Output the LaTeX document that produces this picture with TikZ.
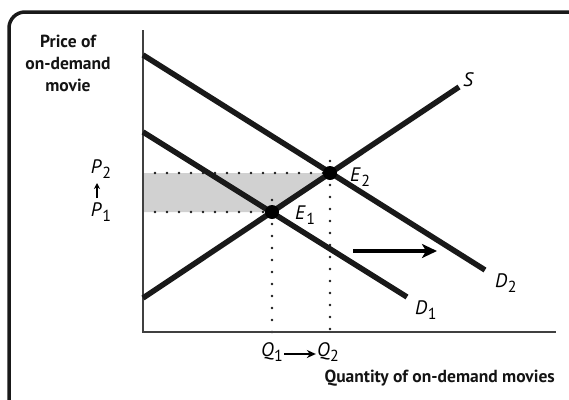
\documentclass[tikz,border=0pt]{standalone}
\usepackage{fontspec}
\setmainfont{PT Sans}
\usetikzlibrary{arrows.meta}
\newcommand\mylab[2]{\textit{#1}\kern0.5pt\raisebox{-0.5ex}{\fontsize{16}{16}\selectfont #2}}
\begin{document}
\begin{tikzpicture}[x=1pt,y=-1pt,
  curve/.style={line width=5.5pt, black!90},
  axisline/.style={line width=1.4pt, black!75},
  dotline/.style={line width=2.6pt, line cap=round, dash pattern=on 0pt off 12pt, black!90},
  eqdot/.style={circle, fill=black, inner sep=0pt, minimum size=14pt},
  lab/.style={font=\fontsize{19.5}{19.5}\selectfont, inner sep=1pt},
  ttl/.style={font=\fontsize{17.5}{22}\selectfont\bfseries, inner sep=0pt, text=black!92}]
\useasboundingbox (0,0) rectangle (569,399);
\clip (0,0) rectangle (569,399);
\draw[line width=3.5pt, rounded corners=16pt, black!90] (9,12) rectangle (590,420);
% key points
\coordinate (O) at (143,332);
\coordinate (Ytop) at (143,30);
\coordinate (Xend) at (556,332);
\coordinate (D2a) at (143,55);
\coordinate (D2b) at (485,270);
\coordinate (D1a) at (143,132);
\coordinate (D1b) at (407,297);
\coordinate (Sa) at (143,298);
\coordinate (Sb) at (459,87);
\coordinate (P2) at (143,173);
\coordinate (P1) at (143,212);
\coordinate (Q1) at (272,332);
\coordinate (Q2) at (330,332);
\coordinate (E1c) at (272,212);
\coordinate (E2c) at (330,173);
% shaded area
\fill[black!18] (P2) -- (E2c) -- (E1c) -- (P1) -- cycle;
% dotted guides
\draw[dotline] ([xshift=12pt]P2) -- ([xshift=-6pt]E2c);
\draw[dotline] ([xshift=12pt]P1) -- ([xshift=-6pt]E1c);
\draw[dotline] ([yshift=12pt]E1c) -- ([yshift=-4pt]Q1);
\draw[dotline] ([yshift=12pt]E2c) -- ([yshift=-4pt]Q2);
% axes
\draw[axisline] (Ytop) -- (O) -- (Xend);
% curves
\draw[curve] (D2a) -- (D2b);
\draw[curve] (D1a) -- (D1b);
\draw[curve] (Sa) -- (Sb);
\node[eqdot] (E1) at (E1c) {};
\node[eqdot] (E2) at (E2c) {};
% shift arrow
\coordinate (Aa) at (353,251);
\coordinate (Ab) at (437,251);
\draw[line width=4.5pt, -{Stealth[length=15pt,width=14pt,inset=4pt]}] (Aa) -- (Ab);
% labels
\node[lab, anchor=west] (Slab) at (462,80) {\textit{S}};
\node[lab, anchor=west] (D2lab) at (494,283) {\mylab{D}{2}};
\node[lab, anchor=west] (D1lab) at (414,310) {\mylab{D}{1}};
\node[lab, anchor=west] (E1lab) at (294,215) {\mylab{E}{1}};
\node[lab, anchor=west] (E2lab) at (349,177) {\mylab{E}{2}};
\node[lab] (P2lab) at (101,169) {\mylab{P}{2}};
\node[lab] (P1lab) at (101,212) {\mylab{P}{1}};
\draw[line width=1.6pt, -{Stealth[length=6pt,width=6pt]}] (97,198) coordinate (Pua) -- (97,183) coordinate (Pub);
\node[lab] (Q1lab) at (272,352) {\mylab{Q}{1}};
\node[lab] (Q2lab) at (328,352) {\mylab{Q}{2}};
\draw[line width=1.6pt, -{Stealth[length=9pt,width=8pt]}] ([yshift=-2pt]Q1lab.east) -- ([yshift=-2pt]Q2lab.west);
\node[ttl, align=center] (ylab) at (68,63) {Price of\\on-demand\\movie};
\node[ttl, anchor=east] (xlab) at (555,378) {Quantity of on-demand movies};
\end{tikzpicture}
\end{document}
